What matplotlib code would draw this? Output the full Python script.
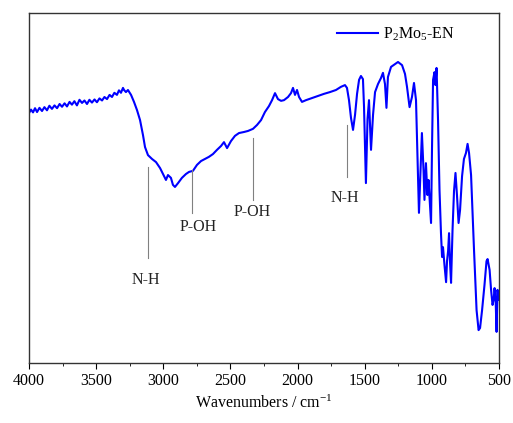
import matplotlib.pyplot as plt
from matplotlib.ticker import MultipleLocator

plt.rcParams['font.family'] = ['Liberation Serif', 'DejaVu Serif']
plt.rcParams['mathtext.fontset'] = 'custom'
plt.rcParams['mathtext.rm'] = 'Liberation Serif'
plt.rcParams['mathtext.it'] = 'Liberation Serif:italic'
plt.rcParams['mathtext.default'] = 'regular'

# FTIR spectrum of P2Mo5-EN (wavenumber in cm-1, transmittance in a.u.)
wavenumber = [
    4000, 3985, 3970, 3955, 3940, 3922, 3903, 3885, 3866, 3848, 3829, 3810, 3791, 3772,
    3754, 3735, 3717, 3698, 3680, 3662, 3643, 3624, 3605, 3587, 3568, 3550, 3531, 3512,
    3494, 3475, 3456, 3438, 3419, 3400, 3382, 3364, 3345, 3330, 3315, 3300, 3292, 3278,
    3263, 3240, 3218, 3196, 3173, 3151,
    3136, 3114, 3084, 3054, 3024, 3002, 2980, 2965, 2943, 2928, 2913, 2890, 2861, 2831,
    2808, 2779, 2749, 2719, 2689, 2660, 2630, 2600, 2570, 2548, 2525, 2496, 2466, 2436,
    2399, 2369, 2332, 2302, 2272, 2243, 2213, 2190, 2168, 2146, 2123, 2101, 2071, 2049,
    2034, 2019, 2004, 1989, 1967, 1937, 1893, 1848, 1803, 1759, 1714, 1677, 1647, 1632,
    1617, 1602, 1587, 1572, 1557, 1542, 1528, 1513, 1505, 1491, 1479, 1468, 1453, 1438,
    1423, 1401, 1379, 1364, 1349, 1338, 1327, 1304, 1274, 1252, 1222, 1200, 1185, 1166,
    1148, 1133, 1118, 1096, 1081, 1074, 1062, 1055, 1044, 1033, 1025, 1014, 1006, 999,
    991, 980, 973, 965, 954, 943, 932, 924, 917, 906, 894, 887, 879, 872,
    865, 857, 846, 835, 824, 813, 801, 790, 775, 761, 746, 734, 723, 708,
    686, 667, 652, 641, 626, 608, 593, 585, 578, 570, 559, 548, 540, 533,
    525, 518, 511, 504, 500,
]
transmittance = [
    71.4, 72.4, 71.6, 72.8, 71.7, 72.9, 72.0, 73.1, 72.2, 73.5, 72.6, 73.6, 72.8, 74.0,
    73.2, 74.2, 73.3, 74.6, 73.8, 74.8, 73.6, 75.2, 74.3, 75.0, 74.0, 75.2, 74.4, 75.3,
    74.5, 75.6, 75.0, 76.0, 75.4, 76.6, 76.0, 77.2, 76.6, 77.9, 77.2, 78.6, 78.0, 77.4,
    78.0, 76.6, 74.6, 72.3, 69.4, 65.1,
    61.7, 59.4, 58.3, 57.4, 55.7, 54.0, 52.3, 53.7, 52.9, 50.9, 50.3, 51.4, 52.9, 54.0,
    54.6, 54.9, 56.6, 57.7, 58.3, 58.9, 59.7, 60.9, 62.0, 63.1, 61.4, 63.4, 64.9, 65.7,
    66.0, 66.3, 66.9, 68.0, 69.4, 71.7, 73.4, 75.1, 77.1, 75.4, 74.9, 75.1, 76.0, 77.1,
    78.6, 76.6, 78.0, 76.0, 74.6, 75.1, 75.7, 76.3, 76.9, 77.4, 78.0, 78.9, 79.4, 78.6,
    75.1, 70.0, 66.6, 70.9, 76.9, 80.9, 82.0, 81.1, 73.1, 51.4, 69.7, 75.1, 60.9, 70.9,
    77.4, 79.7, 81.4, 82.9, 79.7, 72.9, 81.7, 84.6, 85.4, 86.0, 85.1, 82.6, 78.9, 73.1,
    76.0, 80.0, 75.1, 42.9, 58.9, 65.7, 55.1, 46.6, 57.1, 48.0, 52.3, 45.1, 40.0, 60.9,
    80.9, 83.1, 79.4, 84.3, 69.4, 49.4, 37.1, 30.3, 33.1, 28.0, 23.1, 29.1, 32.0, 37.1,
    29.1, 22.9, 38.0, 49.1, 54.3, 48.0, 40.0, 43.7, 53.4, 58.3, 60.0, 62.6, 60.0, 53.7,
    32.3, 15.1, 9.4, 10.0, 15.1, 22.3, 29.1, 29.7, 28.3, 26.6, 20.9, 16.6, 18.0, 21.4,
    18.0, 8.9, 20.9, 18.0, 19.1,
]

# Band assignments: label, line position, line top / bottom, label position
band_labels = ["N-H", "P-OH", "P-OH", "N-H"]
band_wn = [3114, 2786, 2332, 1632]
band_top = [56.0, 55.1, 64.3, 68.0]
band_bottom = [30.0, 42.9, 46.6, 53.1]
label_wn = [3129, 2742, 2339, 1647]
label_y = [23.7, 38.9, 43.1, 47.1]

fig = plt.figure(figsize=(5.13, 4.23), dpi=100)
ax = fig.add_axes([0.0565, 0.1418, 0.9162, 0.8275])

ax.plot(wavenumber, transmittance, color='#0000FF', lw=1.5,
        label=r"P$_{2}$Mo$_{5}$-EN")

for lab, wn, top, bot, lx, ly in zip(band_labels, band_wn, band_top, band_bottom,
                                     label_wn, label_y):
    ax.plot([wn, wn], [bot, top], color='#808080', lw=0.8)
    ax.text(lx, ly, lab, ha='center', va='center', fontsize=11.5, color='#222222')

ax.set_xlim(4000, 500)
ax.set_ylim(0, 100)
ax.xaxis.set_major_locator(MultipleLocator(500))
ax.xaxis.set_minor_locator(MultipleLocator(250))
ax.tick_params(axis='x', which='major', direction='out', length=4, labelsize=11.5)
ax.tick_params(axis='x', which='minor', direction='out', length=2.5)
ax.set_yticks([])
for s in ax.spines.values():
    s.set_color('#333333')
    s.set_linewidth(1.0)

ax.set_xlabel(r"Wavenumbers / cm$^{-1}$", fontsize=11.5, labelpad=4)

ax.legend(loc='upper right', bbox_to_anchor=(0.937, 1.005), frameon=False,
          fontsize=11.5, handlelength=2.6, handletextpad=0.3)

fig.savefig("out.png", dpi=100)
